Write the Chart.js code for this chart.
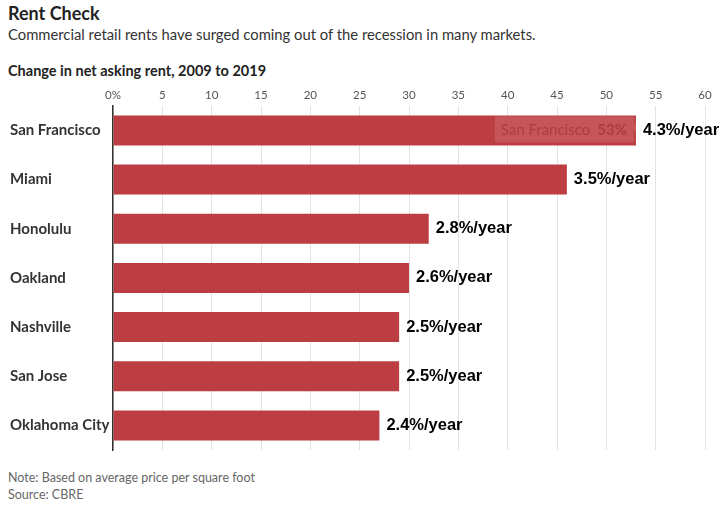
<!DOCTYPE html>
<html>
<head>
    <title>Rent Check</title>
    <script src="https://cdn.jsdelivr.net/npm/chart.js@4.4.1/dist/chart.umd.min.js"></script>
    <style>
        body { margin: 0; font-family: Lato, sans-serif; background: #fff; }
        .page { position: relative; width: 723px; height: 510px; }
        .txt { position: absolute; left: 8px; white-space: nowrap; }
        #title { top: 2px; font-size: 18px; font-weight: bold; color: #222; }
        #subtitle { top: 25px; font-size: 14.8px; color: #333; }
        #label { top: 62px; font-size: 14.5px; font-weight: bold; color: #222; }
        #note { top: 470px; font-size: 12.5px; color: #666; }
        #source { top: 487px; font-size: 12.5px; color: #666; }
        #chart-box { position: absolute; left: 0; top: 84px; width: 723px; height: 378px; }
    </style>
</head>
<body>
<div class="page">
    <div class="txt" id="title">Rent Check</div>
    <div class="txt" id="subtitle">Commercial retail rents have surged coming out of the recession in many markets.</div>
    <div class="txt" id="label">Change in net asking rent, 2009 to 2019</div>
    <div id="chart-box"><canvas id="rentChart"></canvas></div>
    <div class="txt" id="note">Note: Based on average price per square foot</div>
    <div class="txt" id="source">Source: CBRE</div>
</div>

<script>
    // data
    const cities = ['San Francisco', 'Miami', 'Honolulu', 'Oakland', 'Nashville', 'San Jose', 'Oklahoma City'];
    const totalChange = [53, 46, 32, 30, 29, 29, 27];
    const perYear = ['4.3%/year', '3.5%/year', '2.8%/year', '2.6%/year', '2.5%/year', '2.5%/year', '2.4%/year'];
    const xTicks = [0, 5, 10, 15, 20, 25, 30, 35, 40, 45, 50, 55, 60];

    // per-year labels at the end of each bar
    const endLabels = {
        id: 'endLabels',
        afterDatasetsDraw(chart) {
            const ctx = chart.ctx;
            const bars = chart.getDatasetMeta(0).data;
            ctx.save();
            ctx.font = 'bold 16.5px "Liberation Sans", Arial, sans-serif';
            ctx.fillStyle = '#000';
            ctx.textBaseline = 'middle';
            ctx.textAlign = 'left';
            bars.forEach((bar, i) => {
                ctx.fillText(perYear[i], bar.x + 7, bar.y);
            });
            ctx.restore();
        }
    };

    // the hover box sitting on the San Francisco bar
    const hoverBox = {
        id: 'hoverBox',
        afterDatasetsDraw(chart) {
            const ctx = chart.ctx;
            const bar = chart.getDatasetMeta(0).data[0];
            const name = cities[0];
            const val = totalChange[0] + '%';
            ctx.save();
            ctx.font = '15px Lato, sans-serif';
            const w1 = ctx.measureText(name).width;
            ctx.font = 'bold 15px Lato, sans-serif';
            const w2 = ctx.measureText(val).width;
            const w = 6 + w1 + 7 + w2 + 7;
            const h = 26;
            const right = bar.x - 2;
            const left = right - w;
            const top = bar.y - h / 2 - 1;
            ctx.fillStyle = 'rgba(255,255,255,0.12)';
            ctx.fillRect(left, top, w, h);
            ctx.beginPath();
            ctx.moveTo(right, top + 7);
            ctx.lineTo(right + 3, top + 11);
            ctx.lineTo(right, top + 15);
            ctx.closePath();
            ctx.fill();
            ctx.fillStyle = 'rgba(150,40,45,0.55)';
            ctx.textBaseline = 'middle';
            ctx.font = '15px Lato, sans-serif';
            ctx.fillText(name, left + 6, top + h / 2 + 1);
            ctx.font = 'bold 15px Lato, sans-serif';
            ctx.fillText(val, left + 6 + w1 + 7, top + h / 2 + 1);
            ctx.restore();
        }
    };

    const ctx = document.getElementById('rentChart').getContext('2d');
    const chart = new Chart(ctx, {
        type: 'bar',
        data: {
            labels: cities,
            datasets: [{
                data: totalChange,
                backgroundColor: '#bd3e42',
                barPercentage: 0.61,
                categoryPercentage: 1
            }]
        },
        options: {
            indexAxis: 'y',
            responsive: true,
            maintainAspectRatio: false,
            animation: false,
            layout: { padding: { left: 10, right: 18, top: 0, bottom: 6 } },
            plugins: {
                legend: { display: false },
                tooltip: { enabled: false }
            },
            scales: {
                x: {
                    position: 'top',
                    min: 0,
                    max: 60,
                    afterBuildTicks: (scale) => { scale.ticks = xTicks.map(v => ({ value: v })); },
                    ticks: {
                        padding: 4,
                        color: '#555',
                        font: { family: 'Lato', size: 11.5 },
                        callback: (v) => v === 0 ? '0%' : v
                    },
                    grid: { color: '#e3e3e3', drawTicks: false },
                    border: { display: false }
                },
                y: {
                    afterFit: (scale) => { scale.width = 103; },
                    ticks: {
                        crossAlign: 'far',
                        color: '#333',
                        font: { family: 'Lato', size: 15, weight: 'bold' }
                    },
                    grid: { display: false },
                    border: { display: true, color: '#333', width: 1.5 }
                }
            }
        },
        plugins: [endLabels, hoverBox]
    });
</script>
</body>
</html>
